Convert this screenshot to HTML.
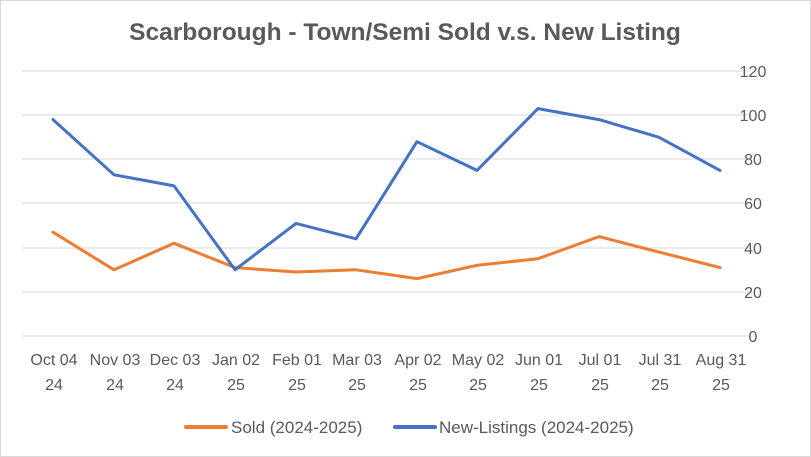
<!DOCTYPE html>
<html><head><meta charset="utf-8"><style>
html,body{margin:0;padding:0;background:#fff}
svg{display:block;font-family:"Liberation Sans",sans-serif}
</style></head><body>
<svg width="811" height="457" viewBox="0 0 811 457">
<rect x="0.5" y="0.5" width="810" height="456" fill="#fff" stroke="#d9d9d9"/>
<text x="405" y="40" text-anchor="middle" font-size="24.5" font-weight="bold" fill="#595959">Scarborough - Town/Semi Sold v.s. New Listing</text>
<g stroke="#d9d9d9" stroke-width="1">
<line x1="22" y1="71" x2="750" y2="71"/><line x1="22" y1="115" x2="750" y2="115"/>
<line x1="22" y1="159" x2="750" y2="159"/><line x1="22" y1="203" x2="750" y2="203"/>
<line x1="22" y1="248" x2="750" y2="248"/><line x1="22" y1="292" x2="750" y2="292"/>
<line x1="22" y1="336" x2="750" y2="336"/>
</g>
<g font-size="16" fill="#595959" text-anchor="middle">
<text x="753" y="77">120</text><text x="753" y="121">100</text><text x="753" y="165">80</text>
<text x="753" y="209">60</text><text x="753" y="254">40</text><text x="753" y="298">20</text><text x="753" y="342">0</text>
</g>
<g font-size="16" fill="#595959" text-anchor="middle">
<text x="54" y="365">Oct 04</text><text x="54" y="390">24</text>
<text x="115" y="365">Nov 03</text><text x="115" y="390">24</text>
<text x="175" y="365">Dec 03</text><text x="175" y="390">24</text>
<text x="236" y="365">Jan 02</text><text x="236" y="390">25</text>
<text x="297" y="365">Feb 01</text><text x="297" y="390">25</text>
<text x="357" y="365">Mar 03</text><text x="357" y="390">25</text>
<text x="418" y="365">Apr 02</text><text x="418" y="390">25</text>
<text x="478" y="365">May 02</text><text x="478" y="390">25</text>
<text x="539" y="365">Jun 01</text><text x="539" y="390">25</text>
<text x="600" y="365">Jul 01</text><text x="600" y="390">25</text>
<text x="660" y="365">Jul 31</text><text x="660" y="390">25</text>
<text x="721" y="365">Aug 31</text><text x="721" y="390">25</text>
</g>
<polyline fill="none" stroke="#ed7d31" stroke-width="3" stroke-linejoin="round" stroke-linecap="round"
points="53,232.2 114,269.8 174,243.3 235,267.6 296,272 356,269.8 417,278.6 477,265.3 538,258.7 599,236.6 659,252.1 720,267.6"/>
<polyline fill="none" stroke="#4472c4" stroke-width="3" stroke-linejoin="round" stroke-linecap="round"
points="53,119.6 114,174.8 174,185.9 235,269.8 296,223.4 356,238.8 417,141.7 477,170.4 538,108.6 599,119.6 659,137.3 720,170.4"/>
<line x1="186" y1="427" x2="226" y2="427" stroke="#ed7d31" stroke-width="4" stroke-linecap="round"/>
<text x="231" y="433" font-size="17" fill="#595959">Sold (2024-2025)</text>
<line x1="395" y1="427" x2="435" y2="427" stroke="#4472c4" stroke-width="4" stroke-linecap="round"/>
<text x="439" y="433" font-size="17" fill="#595959">New-Listings (2024-2025)</text>
</svg>
</body></html>
